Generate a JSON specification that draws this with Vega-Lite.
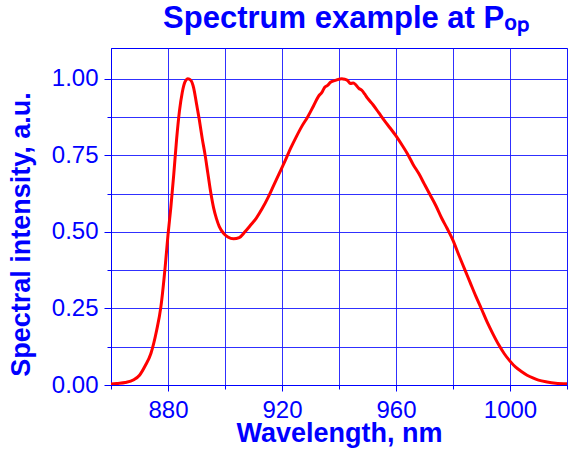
{
  "$schema": "https://vega.github.io/schema/vega-lite/v6.json",
  "width": 456,
  "height": 337,
  "autosize": {"type": "none"},
  "padding": {"left": 111, "top": 48, "right": 1, "bottom": 65},
  "background": "white",
  "title": {
    "text": "Spectrum example at Pₒₚ",
    "font": "Liberation Sans",
    "fontSize": 31,
    "fontWeight": "bold",
    "color": "#0000ff",
    "anchor": "middle",
    "baseline": "alphabetic",
    "offset": -11,
    "dx": 7
  },
  "config": {
    "view": {"stroke": "#0000ff", "strokeWidth": 1},
    "axis": {
      "domainColor": "#0000ff",
      "tickColor": "#0000ff",
      "gridColor": "#1a1aff",
      "gridWidth": 1,
      "gridOpacity": 0.9,
      "labelColor": "#0000ff",
      "titleColor": "#0000ff",
      "labelFont": "Liberation Sans",
      "titleFont": "Liberation Sans",
      "labelFontSize": 24,
      "titleFontSize": 27,
      "titleFontWeight": "bold"
    }
  },
  "data": {
    "values": [
      {"wl": 860, "v": 0.003}, {"wl": 862, "v": 0.005}, {"wl": 865, "v": 0.008},
      {"wl": 868, "v": 0.017}, {"wl": 870, "v": 0.032}, {"wl": 872, "v": 0.063},
      {"wl": 874, "v": 0.103}, {"wl": 876, "v": 0.178}, {"wl": 877.5, "v": 0.255},
      {"wl": 879, "v": 0.385}, {"wl": 880, "v": 0.49}, {"wl": 881, "v": 0.58},
      {"wl": 882, "v": 0.685}, {"wl": 883, "v": 0.8}, {"wl": 884, "v": 0.893},
      {"wl": 885, "v": 0.955}, {"wl": 886, "v": 0.99}, {"wl": 887, "v": 1.0},
      {"wl": 888, "v": 0.995}, {"wl": 889, "v": 0.97}, {"wl": 890, "v": 0.918},
      {"wl": 891, "v": 0.865}, {"wl": 892, "v": 0.805}, {"wl": 893, "v": 0.752},
      {"wl": 894, "v": 0.69}, {"wl": 895, "v": 0.628}, {"wl": 896, "v": 0.578},
      {"wl": 897, "v": 0.543}, {"wl": 898, "v": 0.517}, {"wl": 899.5, "v": 0.495},
      {"wl": 901, "v": 0.483}, {"wl": 903, "v": 0.477}, {"wl": 905, "v": 0.481},
      {"wl": 907, "v": 0.5}, {"wl": 909, "v": 0.522}, {"wl": 911, "v": 0.545},
      {"wl": 913, "v": 0.575}, {"wl": 915, "v": 0.61}, {"wl": 917, "v": 0.65},
      {"wl": 919, "v": 0.69}, {"wl": 921, "v": 0.73}, {"wl": 923, "v": 0.772},
      {"wl": 925, "v": 0.81}, {"wl": 927, "v": 0.845}, {"wl": 929, "v": 0.875},
      {"wl": 931, "v": 0.91}, {"wl": 933, "v": 0.945}, {"wl": 934, "v": 0.955},
      {"wl": 935, "v": 0.972}, {"wl": 936, "v": 0.978}, {"wl": 937, "v": 0.988},
      {"wl": 939, "v": 0.995}, {"wl": 941, "v": 1.0}, {"wl": 942, "v": 0.998},
      {"wl": 943, "v": 0.994}, {"wl": 944, "v": 0.984}, {"wl": 945, "v": 0.986},
      {"wl": 947, "v": 0.968}, {"wl": 948, "v": 0.962}, {"wl": 949, "v": 0.95},
      {"wl": 950, "v": 0.936}, {"wl": 952, "v": 0.914}, {"wl": 954, "v": 0.888},
      {"wl": 956, "v": 0.862}, {"wl": 958, "v": 0.838}, {"wl": 960, "v": 0.813},
      {"wl": 962, "v": 0.785}, {"wl": 964, "v": 0.755}, {"wl": 966, "v": 0.72},
      {"wl": 968, "v": 0.69}, {"wl": 970, "v": 0.655}, {"wl": 972, "v": 0.62},
      {"wl": 974, "v": 0.585}, {"wl": 976, "v": 0.545}, {"wl": 978, "v": 0.51},
      {"wl": 980, "v": 0.472}, {"wl": 982, "v": 0.425}, {"wl": 984, "v": 0.38},
      {"wl": 986, "v": 0.335}, {"wl": 988, "v": 0.29}, {"wl": 990, "v": 0.248},
      {"wl": 992, "v": 0.205}, {"wl": 994, "v": 0.167}, {"wl": 996, "v": 0.132},
      {"wl": 998, "v": 0.102}, {"wl": 1000, "v": 0.078}, {"wl": 1002, "v": 0.058},
      {"wl": 1004, "v": 0.044}, {"wl": 1006, "v": 0.032}, {"wl": 1008, "v": 0.023},
      {"wl": 1010, "v": 0.016}, {"wl": 1013, "v": 0.01}, {"wl": 1016, "v": 0.006},
      {"wl": 1020, "v": 0.004}
    ]
  },
  "mark": {"type": "line", "color": "#ff0000", "strokeWidth": 3, "interpolate": "monotone", "clip": true},
  "encoding": {
    "x": {
      "field": "wl",
      "type": "quantitative",
      "scale": {"domain": [860, 1020], "nice": false, "zero": false},
      "axis": {
        "title": "Wavelength, nm",
        "values": [860, 880, 900, 920, 940, 960, 980, 1000, 1020],
        "labelExpr": "datum.value % 40 == 0 ? format(datum.value, 'd') : ''",
        "tickSize": {"condition": {"test": "datum.value % 40 == 0", "value": 6}, "value": 4},
        "labelPadding": 7,
        "labelFlush": false,
        "labelOverlap": false,
        "titleBaseline": "alphabetic",
        "titleY": 56,
        "titleX": 228
      }
    },
    "y": {
      "field": "v",
      "type": "quantitative",
      "scale": {"domain": [0, 1.1], "nice": false},
      "axis": {
        "title": "Spectral intensity, a.u.",
        "values": [0, 0.125, 0.25, 0.375, 0.5, 0.625, 0.75, 0.875, 1.0],
        "labelExpr": "(datum.value * 4) % 1 == 0 ? format(datum.value, '.2f') : ''",
        "tickSize": {"condition": {"test": "(datum.value * 4) % 1 == 0", "value": 7}, "value": 4},
        "labelPadding": 6,
        "labelFlush": false,
        "labelOverlap": false,
        "titleAngle": -90,
        "titleAlign": "center",
        "titleBaseline": "alphabetic",
        "titleX": -82,
        "titleY": 186
      }
    }
  }
}
